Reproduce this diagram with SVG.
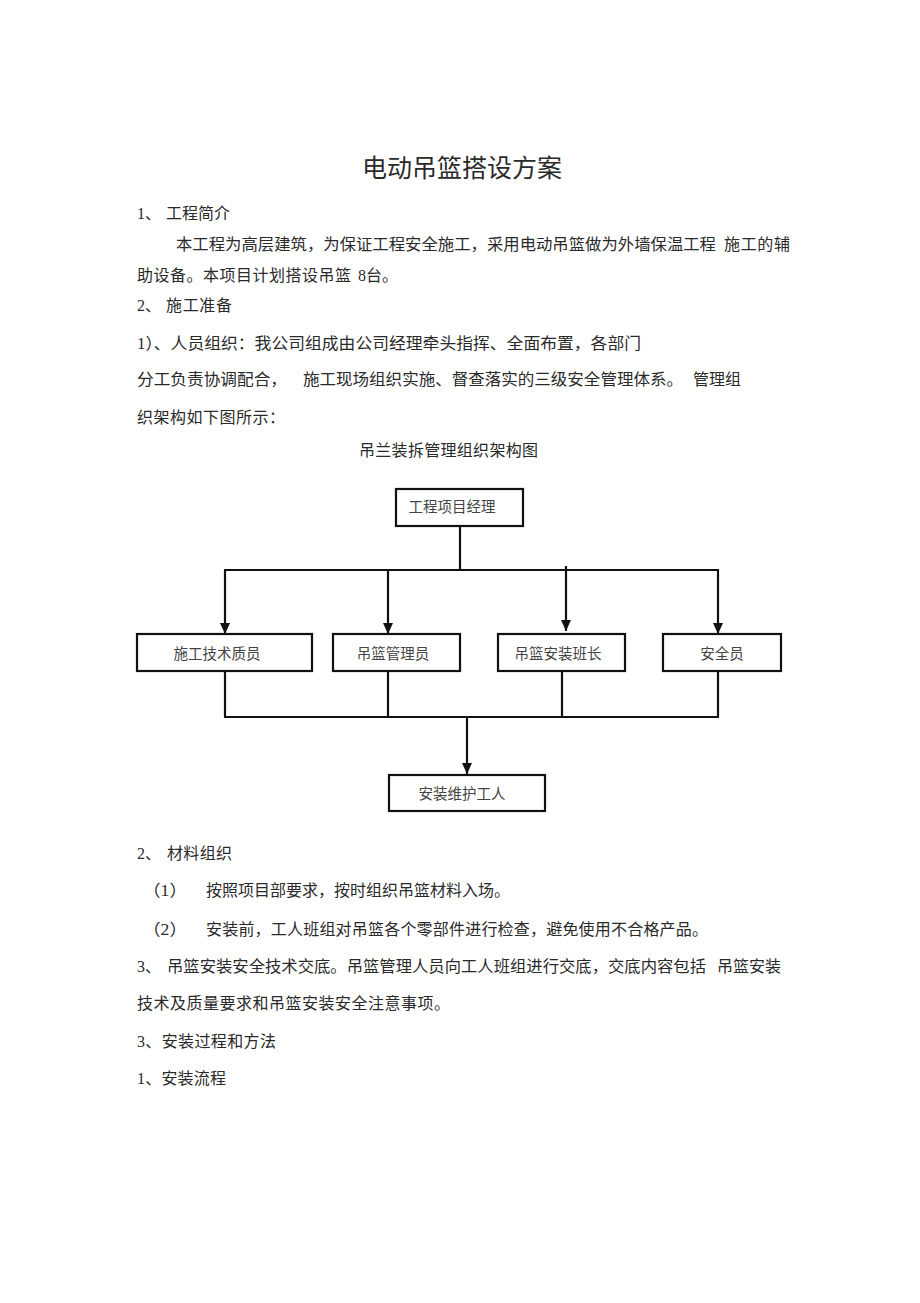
<svg xmlns="http://www.w3.org/2000/svg" width="920" height="1303" viewBox="0 0 920 1303">
<style>
  .t{font-family:"Liberation Serif","Noto Sans CJK SC",serif;font-size:16px;fill:#2a2a2a}
  .title{font-family:"Liberation Serif","Noto Sans CJK SC",serif;font-size:25px;fill:#2a2a2a}
  .bx{fill:#fff;stroke:#111;stroke-width:2.2}
  .bl{font-family:"Liberation Serif","Noto Sans CJK SC",serif;font-size:14.5px;fill:#444;text-anchor:middle}
  .ln{fill:none;stroke:#111;stroke-width:2.2}
</style>
<defs>
  <marker id="ah" markerUnits="userSpaceOnUse" markerWidth="12" markerHeight="10" refX="11" refY="5" orient="auto">
    <path d="M0,0 L11,5 L0,10 z" fill="#111"/>
  </marker>
</defs>
<rect width="920" height="1303" fill="#fff"/>

<text class="title" x="362" y="177" textLength="200" lengthAdjust="spacingAndGlyphs">电动吊篮搭设方案</text>

<text class="t" x="137" y="219">1、</text>
<text class="t" x="166" y="219" textLength="64">工程简介</text>
<text class="t" x="176" y="250" textLength="540" lengthAdjust="spacingAndGlyphs">本工程为高层建筑，为保证工程安全施工，采用电动吊篮做为外墙保温工程</text>
<text class="t" x="724" y="250" textLength="66">施工的辅</text>
<text class="t" x="137" y="281" textLength="214">助设备。本项目计划搭设吊篮</text>
<text class="t" x="358" y="281">8台。</text>
<text class="t" x="137" y="311">2、</text>
<text class="t" x="166" y="311" textLength="66">施工准备</text>
<text class="t" x="137" y="349" textLength="504" lengthAdjust="spacingAndGlyphs">1）、人员组织：我公司组成由公司经理牵头指挥、全面布置，各部门</text>
<text class="t" x="137" y="385" textLength="150" lengthAdjust="spacingAndGlyphs">分工负责协调配合，</text>
<text class="t" x="303" y="385" textLength="380" lengthAdjust="spacingAndGlyphs">施工现场组织实施、督查落实的三级安全管理体系。</text>
<text class="t" x="693" y="385" textLength="48">管理组</text>
<text class="t" x="137" y="423" textLength="148">织架构如下图所示：</text>
<text class="t" x="359" y="456" textLength="179">吊兰装拆管理组织架构图</text>

<g id="connectors">
  <line class="ln" x1="460" y1="526" x2="460" y2="570"/>
  <line class="ln" x1="224" y1="570" x2="719" y2="570"/>
  <line class="ln" x1="225" y1="570" x2="225" y2="634" marker-end="url(#ah)"/>
  <line class="ln" x1="388" y1="570" x2="388" y2="634" marker-end="url(#ah)"/>
  <line class="ln" x1="566" y1="566" x2="566" y2="631" marker-end="url(#ah)"/>
  <line class="ln" x1="718" y1="570" x2="718" y2="634" marker-end="url(#ah)"/>
  <line class="ln" x1="225" y1="671" x2="225" y2="717"/>
  <line class="ln" x1="388" y1="671" x2="388" y2="717"/>
  <line class="ln" x1="562" y1="671" x2="562" y2="717"/>
  <line class="ln" x1="718" y1="671" x2="718" y2="717"/>
  <line class="ln" x1="224" y1="717" x2="719" y2="717"/>
  <line class="ln" x1="467" y1="717" x2="467" y2="774" marker-end="url(#ah)"/>
</g>

<g id="n-manager">
  <rect class="bx" x="396" y="489" width="127" height="37" stroke-width="3"/>
  <text class="bl" x="452" y="512">工程项目经理</text>
</g>
<g id="n-tech">
  <rect class="bx" x="137" y="634" width="175" height="37"/>
  <text class="bl" x="217" y="659">施工技术质员</text>
</g>
<g id="n-admin">
  <rect class="bx" x="333" y="634" width="127" height="37"/>
  <text class="bl" x="393" y="659">吊篮管理员</text>
</g>
<g id="n-leader">
  <rect class="bx" x="498" y="634" width="127" height="37"/>
  <text class="bl" x="558" y="659">吊篮安装班长</text>
</g>
<g id="n-safety">
  <rect class="bx" x="663" y="634" width="118" height="37"/>
  <text class="bl" x="722" y="659">安全员</text>
</g>
<g id="n-workers">
  <rect class="bx" x="389" y="775" width="156" height="36"/>
  <text class="bl" x="462" y="799">安装维护工人</text>
</g>

<text class="t" x="137" y="859">2、</text>
<text class="t" x="167" y="859" textLength="65">材料组织</text>
<text class="t" x="143" y="896" textLength="44" lengthAdjust="spacingAndGlyphs">（1）</text>
<text class="t" x="206" y="896" textLength="304">按照项目部要求，按时组织吊篮材料入场。</text>
<text class="t" x="143" y="935" textLength="44" lengthAdjust="spacingAndGlyphs">（2）</text>
<text class="t" x="206" y="935" textLength="502">安装前，工人班组对吊篮各个零部件进行检查，避免使用不合格产品。</text>
<text class="t" x="137" y="972">3、</text>
<text class="t" x="167" y="972" textLength="539" lengthAdjust="spacingAndGlyphs">吊篮安装安全技术交底。吊篮管理人员向工人班组进行交底，交底内容包括</text>
<text class="t" x="717" y="972" textLength="64">吊篮安装</text>
<text class="t" x="137" y="1009" textLength="313">技术及质量要求和吊篮安装安全注意事项。</text>
<text class="t" x="137" y="1047" textLength="139">3、安装过程和方法</text>
<text class="t" x="137" y="1084" textLength="89">1、安装流程</text>
</svg>
